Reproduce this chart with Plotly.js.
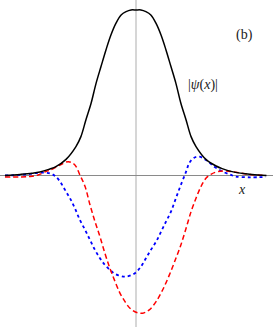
<!DOCTYPE html>
<html>
<head>
<meta charset="utf-8">
<script src="https://cdn.plot.ly/plotly-3.0.1.min.js"></script>
<style>html,body{margin:0;padding:0;background:#fff;}#chart{width:273px;height:327px;}</style>
</head>
<body>
<div id="chart"></div>
<script>
// |psi(x)| (black, solid)
const absX = [-5.02,-4.44,-3.68,-3.30,-3.07,-2.68,-2.30,-2.11,-1.92,-1.72,-1.53,-1.34,-1.15,-0.96,-0.77,-0.57,-0.38,-0.19,0,0.19,0.38,0.57,0.77,0.96,1.15,1.34,1.53,1.72,1.92,2.11,2.30,2.68,3.07,3.30,3.68,4.44,5.0];
const absY = [0.003,0.009,0.024,0.042,0.056,0.100,0.177,0.237,0.337,0.438,0.558,0.659,0.759,0.849,0.919,0.970,0.990,1.000,1.000,1.000,0.990,0.970,0.919,0.849,0.759,0.659,0.558,0.438,0.337,0.237,0.177,0.100,0.060,0.044,0.026,0.009,0.003];

// red dashed curve
const redX = [-5.02,-4.44,-4.06,-3.75,-3.41,-3.30,-2.91,-2.59,-2.34,-2.15,-1.95,-1.76,-1.57,-1.38,-1.19,-1.00,-0.80,-0.61,-0.42,-0.23,0.03,0.26,0.51,0.77,1.02,1.28,1.53,1.72,1.92,2.11,2.30,2.49,2.68,2.87,3.13,3.45,3.83,4.37,4.98];
const redY = [-0.006,-0.006,-0.003,0.006,0.030,0.034,0.066,0.086,0.066,0.006,-0.064,-0.175,-0.275,-0.366,-0.466,-0.556,-0.637,-0.707,-0.757,-0.797,-0.823,-0.827,-0.807,-0.757,-0.687,-0.596,-0.496,-0.416,-0.315,-0.215,-0.134,-0.064,-0.014,0.010,0.026,0.030,0.022,0.009,0.003];

// blue dotted curve
const blueX = [-5.02,-4.44,-4.06,-3.68,-3.30,-3.10,-2.91,-2.72,-2.53,-2.34,-2.15,-1.95,-1.76,-1.57,-1.38,-1.19,-1.00,-0.80,-0.42,-0.04,0.19,0.38,0.57,0.77,0.96,1.15,1.34,1.53,1.72,1.92,2.04,2.23,2.43,2.68,3.00,3.32,3.64,3.83,4.37,4.98];
const blueY = [0.003,0.006,0.012,0.020,0.016,0.000,-0.034,-0.084,-0.134,-0.195,-0.265,-0.325,-0.386,-0.446,-0.496,-0.536,-0.566,-0.590,-0.607,-0.586,-0.546,-0.496,-0.446,-0.396,-0.336,-0.275,-0.215,-0.134,-0.054,0.026,0.077,0.110,0.116,0.096,0.056,0.026,0.006,-0.004,-0.008,-0.006];

const labels = {panel: "(b)", curve: "|<i>ψ</i>(<i>x</i>)|", axis: "<i>x</i>"};

const traces = [
  {x: blueX, y: blueY, mode: 'lines', line: {color: '#0000ff', width: 1.8, dash: 'dot', shape: 'spline'}, hoverinfo: 'skip'},
  {x: redX, y: redY, mode: 'lines', line: {color: '#ff0000', width: 1.5, dash: '5px,3px', shape: 'spline'}, hoverinfo: 'skip'},
  {x: absX, y: absY, mode: 'lines', line: {color: '#000000', width: 1.5, shape: 'spline'}, hoverinfo: 'skip'}
];

const font = {family: 'Liberation Serif, DejaVu Serif, serif', size: 14, color: '#222'};

const layout = {
  width: 273, height: 327,
  margin: {l: 0, r: 0, t: 0, b: 0, pad: 0},
  paper_bgcolor: '#fff', plot_bgcolor: '#fff',
  showlegend: false,
  xaxis: {range: [-5.21, 5.25], showgrid: false, zeroline: true, zerolinecolor: '#d6d6d6', zerolinewidth: 2, showticklabels: false, ticks: '', showline: false, fixedrange: true},
  yaxis: {range: [-0.910, 1.060], showgrid: false, zeroline: true, zerolinecolor: '#8a8a8a', zerolinewidth: 1, showticklabels: false, ticks: '', showline: false, fixedrange: true},
  annotations: [
    {x: 4.14, y: 0.849, xref: 'x', yref: 'y', text: labels.panel, showarrow: false, font: font, xanchor: 'center', yanchor: 'middle'},
    {x: 2.57, y: 0.548, xref: 'x', yref: 'y', text: labels.curve, showarrow: false, font: font, xanchor: 'center', yanchor: 'middle'},
    {x: 4.06, y: -0.084, xref: 'x', yref: 'y', text: labels.axis, showarrow: false, font: font, xanchor: 'center', yanchor: 'middle'}
  ]
};

Plotly.newPlot('chart', traces, layout, {staticPlot: true, displayModeBar: false});
</script>
</body>
</html>
